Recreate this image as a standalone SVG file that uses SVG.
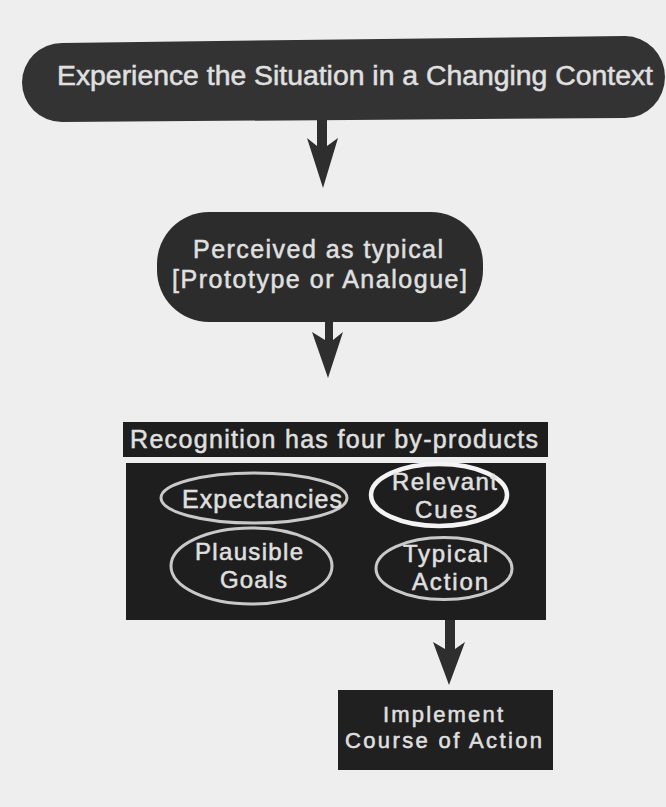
<svg xmlns="http://www.w3.org/2000/svg" width="666" height="807" viewBox="0 0 666 807">
  <style>
    .lbl { font-family: "Liberation Sans", Arial, Helvetica, sans-serif; fill: #e0e0e0; stroke: #e0e0e0; stroke-width: 0.5; text-anchor: middle; }
    .dark { fill: #2c2c2c; }
    .ring { fill: none; stroke: #c9c9c9; stroke-width: 3; }
    .ring-hi { fill: none; stroke: #f4f4f4; stroke-width: 4.5; }
    .arrow { fill: #2e2e2e; }
  </style>
  <rect width="666" height="807" fill="#eeeeee"/>

  <g id="connectors">
    <!-- pill -> perceived -->
    <path class="arrow" d="M317,116 L327,116 L327,146 L338,138 L323,188 L307,138 L317,146 Z"/>
    <!-- perceived -> recognition -->
    <path class="arrow" d="M325,318 L333,318 L333,340 L343,332 L328,378 L312,332 L325,340 Z"/>
    <!-- typical action -> implement -->
    <rect x="445.5" y="592" width="9" height="26" fill="#cfcfcf"/>
    <path class="arrow" d="M445,618 L455,618 L455,649 L465,642 L449,685 L433,642 L445,649 Z"/>
  </g>

  <g id="experience">
    <path fill="#333333" d="M62,43 L625,36 A40,41 0 0 1 625,118 L62,122 A40,39.5 0 0 1 62,43 Z"/>
    <text class="lbl" x="355" y="85" font-size="27" textLength="596" lengthAdjust="spacingAndGlyphs">Experience the Situation in a Changing Context</text>
  </g>

  <g id="perceived">
    <rect class="dark" x="157" y="212" width="326" height="110" rx="52" ry="52"/>
    <text class="lbl" x="318" y="258" font-size="25" textLength="250" lengthAdjust="spacing">Perceived as typical</text>
    <text class="lbl" x="319.5" y="288" font-size="25" textLength="295" lengthAdjust="spacing">[Prototype or Analogue]</text>
  </g>

  <g id="recognition">
    <rect x="123" y="422" width="425" height="35" fill="#1e1e1e"/>
    <text class="lbl" x="334" y="448" font-size="25" textLength="408" lengthAdjust="spacing">Recognition has four by-products</text>
    <rect x="126" y="463" width="420" height="157" fill="#1e1e1e"/>
  </g>

  <g id="expectancies">
    <ellipse class="ring" cx="254" cy="498" rx="93" ry="25"/>
    <text class="lbl" x="262" y="508" font-size="25" textLength="160" lengthAdjust="spacing">Expectancies</text>
  </g>

  <g id="relevant-cues">
    <ellipse class="ring-hi" cx="439" cy="495" rx="68" ry="31"/>
    <text class="lbl" x="444.5" y="490" font-size="24" textLength="105" lengthAdjust="spacing">Relevant</text>
    <text class="lbl" x="446" y="518" font-size="24" textLength="62" lengthAdjust="spacing">Cues</text>
  </g>

  <g id="plausible-goals">
    <ellipse class="ring" cx="251.5" cy="566" rx="80.5" ry="38"/>
    <text class="lbl" x="249" y="560" font-size="24" textLength="108" lengthAdjust="spacing">Plausible</text>
    <text class="lbl" x="253.5" y="588" font-size="24" textLength="67" lengthAdjust="spacing">Goals</text>
  </g>

  <g id="typical-action">
    <ellipse class="ring" cx="444" cy="568.5" rx="68" ry="31"/>
    <text class="lbl" x="445.5" y="562" font-size="24" textLength="85" lengthAdjust="spacing">Typical</text>
    <text class="lbl" x="450" y="590" font-size="24" textLength="76" lengthAdjust="spacing">Action</text>
  </g>

  <g id="implement">
    <rect x="338" y="690" width="215" height="80" fill="#202020"/>
    <text class="lbl" x="443" y="722" font-size="22" textLength="120" lengthAdjust="spacing">Implement</text>
    <text class="lbl" x="443.5" y="748" font-size="22" textLength="197" lengthAdjust="spacing">Course of Action</text>
  </g>
</svg>
